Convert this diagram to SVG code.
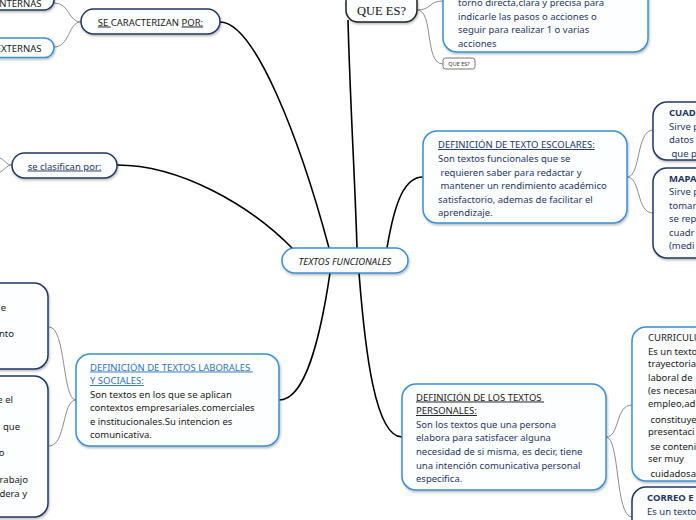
<svg xmlns="http://www.w3.org/2000/svg" width="696" height="520" viewBox="0 0 696 520">
<defs>
<filter id="sh" x="-10%" y="-10%" width="130%" height="140%"><feDropShadow dx="0.8" dy="1.5" stdDeviation="0.9" flood-color="#000" flood-opacity="0.28"/></filter>
<style>
.box{fill:#fdfeff;stroke-width:1.5;filter:url(#sh)}
.blue{stroke:#3b8fd4}
.navy{stroke:#1f3864}
.main{fill:none;stroke:#000;stroke-width:1.6}
.sub{fill:none;stroke:#8c8c8c;stroke-width:1}
text{font-family:"Noto Sans","Open Sans","DejaVu Sans",sans-serif;font-size:9.5px}
.tn{fill:#1f3864}
.tk{fill:#1a1a1a}
.tb{fill:#2e75b6}
.u{text-decoration:underline}
.bold{font-weight:bold}
</style>
</defs>
<g id="connectors">
<path class="main" d="M220,22 C255,22 300,140 329,248"/>
<path class="main" d="M117,165 C180,165 250,205 293,249"/>
<path class="main" d="M348,20 C350,100 355,180 357,248"/>
<path class="main" d="M387,248 C395,200 405,177 423,177"/>
<path class="main" d="M330,273 C320,340 305,400 279,400"/>
<path class="main" d="M359,273 C365,350 375,437 402,437"/>
<path class="sub" d="M81,22 C68,22 70,3 54,3"/>
<path class="sub" d="M81,22 C68,22 70,47 54,47"/>
<path class="sub" d="M12,165 C6,165 4,159 0,158"/>
<path class="sub" d="M12,165 C6,165 4,171 0,172"/>
<path class="sub" d="M417,10 C432,10 428,1 443,1"/>
<path class="sub" d="M417,10 C434,10 424,64 443,64"/>
<path class="sub" d="M627,177 C641,177 636,130 653,130"/>
<path class="sub" d="M627,177 C641,177 636,213 653,213"/>
<path class="sub" d="M76,400 C62,400 66,327 49,327"/>
<path class="sub" d="M76,400 C62,400 66,446 49,446"/>
<path class="sub" d="M606,437 C620,437 615,405 632,405"/>
<path class="sub" d="M606,437 C620,437 615,517 632,517"/>
</g>
<g id="central">
<rect class="box blue" x="282" y="248" width="126" height="25" rx="12.5"/>
<text x="345" y="264.5" text-anchor="middle" class="tk" font-style="italic">TEXTOS FUNCIONALES</text>
</g>
<g id="caracterizan">
<rect class="box navy" x="81" y="9" width="139" height="25" rx="12.5"/>
<text x="150.5" y="25.5" text-anchor="middle" class="tk"><tspan class="u">SE </tspan>CARACTERIZAN <tspan class="u">POR:</tspan></text>
</g>
<g id="internas">
<rect class="box navy" x="-60" y="-12" width="114" height="22" rx="10"/>
<text x="41.5" y="7" text-anchor="end" class="tk">INTERNAS</text>
</g>
<g id="externas">
<rect class="box blue" x="-60" y="38" width="114" height="19.5" rx="9.5"/>
<text x="41.5" y="51.5" text-anchor="end" class="tk">EXTERNAS</text>
</g>
<g id="clasifican">
<rect class="box navy" x="12" y="153" width="105" height="25" rx="12.5"/>
<text x="64.5" y="169.5" text-anchor="middle" class="tn u">se clasifican por:</text>
</g>
<g id="quees">
<rect class="box" stroke="#222" x="346" y="-10" width="71" height="32" rx="12"/>
<text x="381.5" y="15" text-anchor="middle" fill="#111" style="font-family:'Liberation Serif','Times New Roman',serif;font-size:12.5px">QUE ES?</text>
</g>
<g id="quees-def">
<rect class="box blue" x="443" y="-30" width="205" height="82" rx="14"/>
<text class="tn" x="458" y="6">torno directa,clara y precisa para</text>
<text class="tn" x="458" y="19.5">indicarle las pasos o acciones o</text>
<text class="tn" x="458" y="33">seguir para realizar 1 o varias</text>
<text class="tn" x="458" y="46.5">acciones</text>
</g>
<g id="quees-small">
<rect fill="#fff" stroke="#777" stroke-width="1" x="443" y="58" width="32" height="11" rx="2.5"/>
<text x="459" y="66" text-anchor="middle" fill="#333" style="font-size:5.5px">QUE ES?</text>
</g>
<g id="escolares">
<rect class="box blue" x="423" y="131" width="204" height="92" rx="14"/>
<text class="tn u" x="438" y="148">DEFINICIÓN DE TEXTO ESCOLARES:</text>
<text class="tn" x="438" y="162">Son textos funcionales que se</text>
<text class="tn" x="438" y="175.5" xml:space="preserve"> requieren saber para redactar y</text>
<text class="tn" x="438" y="189" xml:space="preserve"> mantener un rendimiento académico</text>
<text class="tn" x="438" y="202.5">satisfactorio, ademas de facilitar el</text>
<text class="tn" x="438" y="216">aprendizaje.</text>
</g>
<g id="cuadro">
<rect class="box navy" x="653" y="102" width="80" height="58" rx="14"/>
<text class="tn bold" x="669" y="115.5">CUADRO</text>
<text class="tn" x="669" y="129.5">Sirve p</text>
<text class="tn" x="669" y="143">datos</text>
<text class="tn" x="669" y="156.5" xml:space="preserve"> que p</text>
</g>
<g id="mapa">
<rect class="box navy" x="653" y="168" width="80" height="90" rx="14"/>
<text class="tn bold" x="669" y="181.5">MAPA</text>
<text class="tn" x="669" y="195">Sirve p</text>
<text class="tn" x="669" y="208.5">tomar</text>
<text class="tn" x="669" y="222">se rep</text>
<text class="tn" x="669" y="235.5">cuadr</text>
<text class="tn" x="669" y="249">(medi</text>
</g>
<g id="laborales">
<rect class="box blue" x="76" y="354" width="203" height="92" rx="14"/>
<text class="tb u" x="90" y="370.5" xml:space="preserve">DEFINICIÓN DE TEXTOS LABORALES </text>
<text class="tb u" x="90" y="384">Y SOCIALES:</text>
<text class="tk" x="90" y="397.5">Son textos en los que se aplican</text>
<text class="tk" x="90" y="411">contextos empresariales.comerciales</text>
<text class="tk" x="90" y="424.5">e institucionales.Su intencion es</text>
<text class="tk" x="90" y="438">comunicativa.</text>
</g>
<g id="left-upper">
<rect class="box navy" x="-40" y="283" width="88" height="86" rx="14"/>
<text class="tk" x="6" y="310.5" text-anchor="end">e</text>
<text class="tk" x="14" y="337" text-anchor="end">nto</text>
</g>
<g id="left-lower">
<rect class="box navy" x="-40" y="376" width="88" height="141" rx="14"/>
<text class="tk" x="13" y="403" text-anchor="end">e el</text>
<text class="tk" x="20" y="429.5" text-anchor="end">que</text>
<text class="tk" x="4.5" y="456" text-anchor="end">o</text>
<text class="tk" x="28" y="483" text-anchor="end">rabajo</text>
<text class="tk" x="27" y="497" text-anchor="end">dera y</text>
</g>
<g id="personales">
<rect class="box blue" x="402" y="384" width="204" height="106" rx="14"/>
<text class="tk u" x="416" y="400.5" xml:space="preserve">DEFINICIÓN DE LOS TEXTOS </text>
<text class="tk u" x="416" y="414">PERSONALES:</text>
<text class="tn" x="416" y="427.5">Son los textos que una persona</text>
<text class="tn" x="416" y="441">elabora para satisfacer alguna</text>
<text class="tn" x="416" y="455">necesidad de si misma, es decir, tiene</text>
<text class="tn" x="416" y="468.5">una intención comunicativa personal</text>
<text class="tn" x="416" y="482">especifica.</text>
</g>
<g id="curriculum">
<rect class="box blue" x="632" y="327" width="100" height="154" rx="14"/>
<text class="tk" x="648" y="340.5">CURRICULUM</text>
<text class="tk" x="648" y="355">Es un texto</text>
<text class="tk" x="648" y="367">trayectoria</text>
<text class="tk" x="648" y="380.5">laboral de</text>
<text class="tk" x="648" y="394">(es necesario</text>
<text class="tk" x="648" y="407">empleo,ad</text>
<text class="tk" x="648" y="422.5" xml:space="preserve"> constituye</text>
<text class="tk" x="648" y="434.5">presentaci</text>
<text class="tk" x="648" y="449.5" xml:space="preserve"> se conteni</text>
<text class="tk" x="648" y="461.5">ser muy</text>
<text class="tk" x="648" y="476.5" xml:space="preserve"> cuidadosa</text>
</g>
<g id="correo">
<rect class="box navy" x="632" y="487" width="100" height="60" rx="14"/>
<text class="tn bold" x="647" y="500.5">CORREO E</text>
<text class="tn" x="647" y="514.5">Es un texto</text>
</g>
</svg>
